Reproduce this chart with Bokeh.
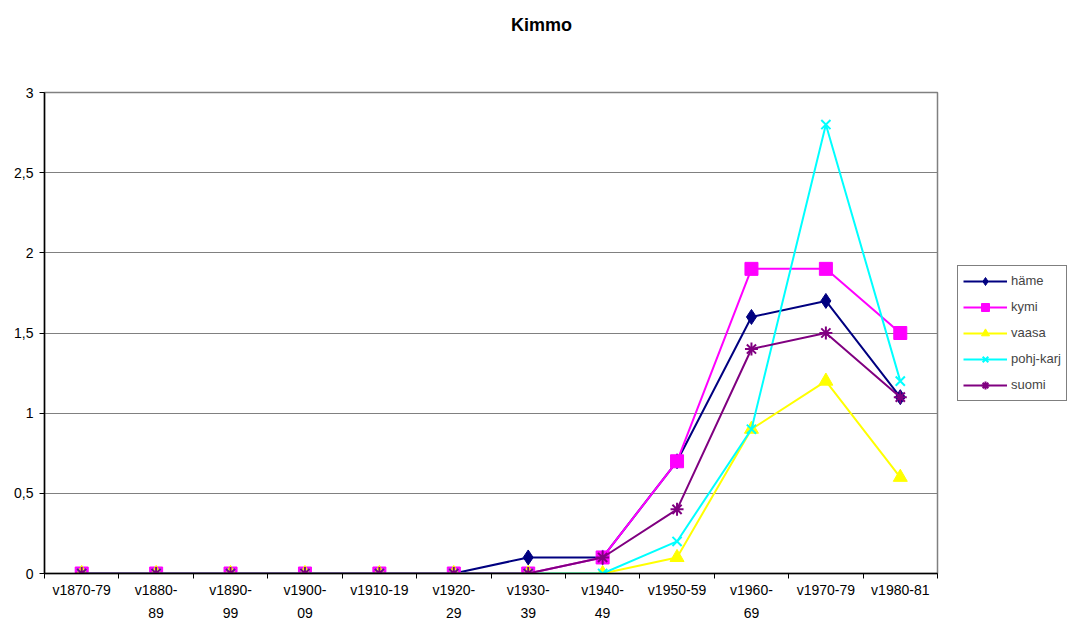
from bokeh.plotting import figure
from bokeh.models import Range1d, FixedTicker, Legend, LegendItem
from bokeh.layouts import column
from bokeh.core.properties import value
from bokeh.embed import file_html
from bokeh.resources import INLINE

title_text = "Kimmo"
categories = ["v1870-79", "v1880-\n89", "v1890-\n99", "v1900-\n09", "v1910-19", "v1920-\n29",
              "v1930-\n39", "v1940-\n49", "v1950-59", "v1960-\n69", "v1970-79", "v1980-81"]
hame = [0, 0, 0, 0, 0, 0, 0.1, 0.1, 0.7, 1.6, 1.7, 1.1]
kymi = [0, 0, 0, 0, 0, 0, 0, 0.1, 0.7, 1.9, 1.9, 1.5]
vaasa = [0, 0, 0, 0, 0, 0, 0, 0, 0.1, 0.9, 1.2, 0.6]
pohj_karj = [0, 0, 0, 0, 0, 0, 0, 0, 0.2, 0.9, 2.8, 1.2]
suomi = [0, 0, 0, 0, 0, 0, 0, 0.1, 0.4, 1.4, 1.5, 1.1]
y_ticks = [0, 0.5, 1, 1.5, 2, 2.5, 3]
y_tick_labels = ["0", "0,5", "1", "1,5", "2", "2,5", "3"]

FONT = "Liberation Sans"
xs = list(range(len(categories)))

# title strip (its frame is aligned with the chart frame by the column layout)
t = figure(frame_width=893, frame_height=83, output_backend="svg", toolbar_location=None,
           x_range=Range1d(0, 893), y_range=Range1d(0, 83),
           min_border_left=0, min_border_right=0, min_border_top=0, min_border_bottom=0)
t.axis.visible = False
t.grid.visible = False
t.outline_line_color = None
t.background_fill_color = "white"
t.border_fill_color = "white"
t.text(x=[497], y=[58.5], text=[title_text], text_align="center", text_baseline="middle",
       text_font=value(FONT), text_font_size="18px", text_font_style="bold", text_color="black")

p = figure(frame_width=893, frame_height=481, output_backend="svg", toolbar_location=None,
           x_range=Range1d(-0.5, len(categories) - 0.5), y_range=Range1d(0, 3),
           min_border_left=44, min_border_right=0, min_border_top=9, min_border_bottom=0)
p.background_fill_color = "white"
p.border_fill_color = "white"
p.outline_line_color = "#808080"
p.outline_line_width = 1.5

p.xgrid.visible = False
p.ygrid.grid_line_color = "#808080"
p.ygrid.grid_line_width = 1
p.ygrid.ticker = FixedTicker(ticks=y_ticks)

xa = p.xaxis[0]
xa.ticker = FixedTicker(ticks=xs, minor_ticks=[i - 0.5 for i in range(len(categories) + 1)])
xa.major_label_overrides = {i: c for i, c in zip(xs, categories)}
xa.major_tick_out = 0
xa.major_tick_in = 0
xa.minor_tick_out = 5
xa.minor_tick_in = 0
xa.minor_tick_line_color = "black"
xa.axis_line_color = "black"
xa.axis_line_width = 1.5
xa.major_label_text_font = FONT
xa.major_label_text_font_size = "14px"
xa.major_label_text_color = "black"
xa.major_label_text_line_height = 1.45
xa.major_label_standoff = 3

ya = p.yaxis[0]
ya.ticker = FixedTicker(ticks=y_ticks)
ya.major_label_overrides = {t_: l for t_, l in zip(y_ticks, y_tick_labels)}
ya.major_tick_out = 5
ya.major_tick_in = 0
ya.minor_tick_out = 0
ya.minor_tick_in = 0
ya.axis_line_color = "black"
ya.axis_line_width = 1.5
ya.major_tick_line_color = "black"
ya.major_label_text_font = FONT
ya.major_label_text_font_size = "14px"
ya.major_label_text_color = "black"
ya.major_label_standoff = 6

series = [
    ("häme", hame, "#000080", "diamond", 15),
    ("kymi", kymi, "#FF00FF", "square", 13),
    ("vaasa", vaasa, "#FFFF00", "triangle", 14),
    ("pohj-karj", pohj_karj, "#00FFFF", "x", 13),
    ("suomi", suomi, "#800080", "asterisk", 13),
]
items = []
for name, vals, color, marker, size in series:
    ln = p.line(xs, vals, line_color=color, line_width=2)
    sc = p.scatter(xs, vals, marker=marker, size=size, fill_color=color, line_color=color,
                   line_width=2 if marker in ("x", "asterisk") else 1)
    items.append(LegendItem(label=name, renderers=[ln, sc]))

legend = Legend(items=items, location="center_left")
legend.margin = 20
legend.padding = 5
legend.spacing = 6
legend.glyph_width = 44
legend.glyph_height = 20
legend.label_standoff = 4
legend.label_text_font = FONT
legend.label_text_font_size = "13px"
legend.border_line_color = "black"
legend.border_line_width = 1.5
legend.background_fill_color = "white"
p.add_layout(legend, "right")

layout = column(t, p, spacing=0)
open("out.html", "w").write(file_html(layout, INLINE))
